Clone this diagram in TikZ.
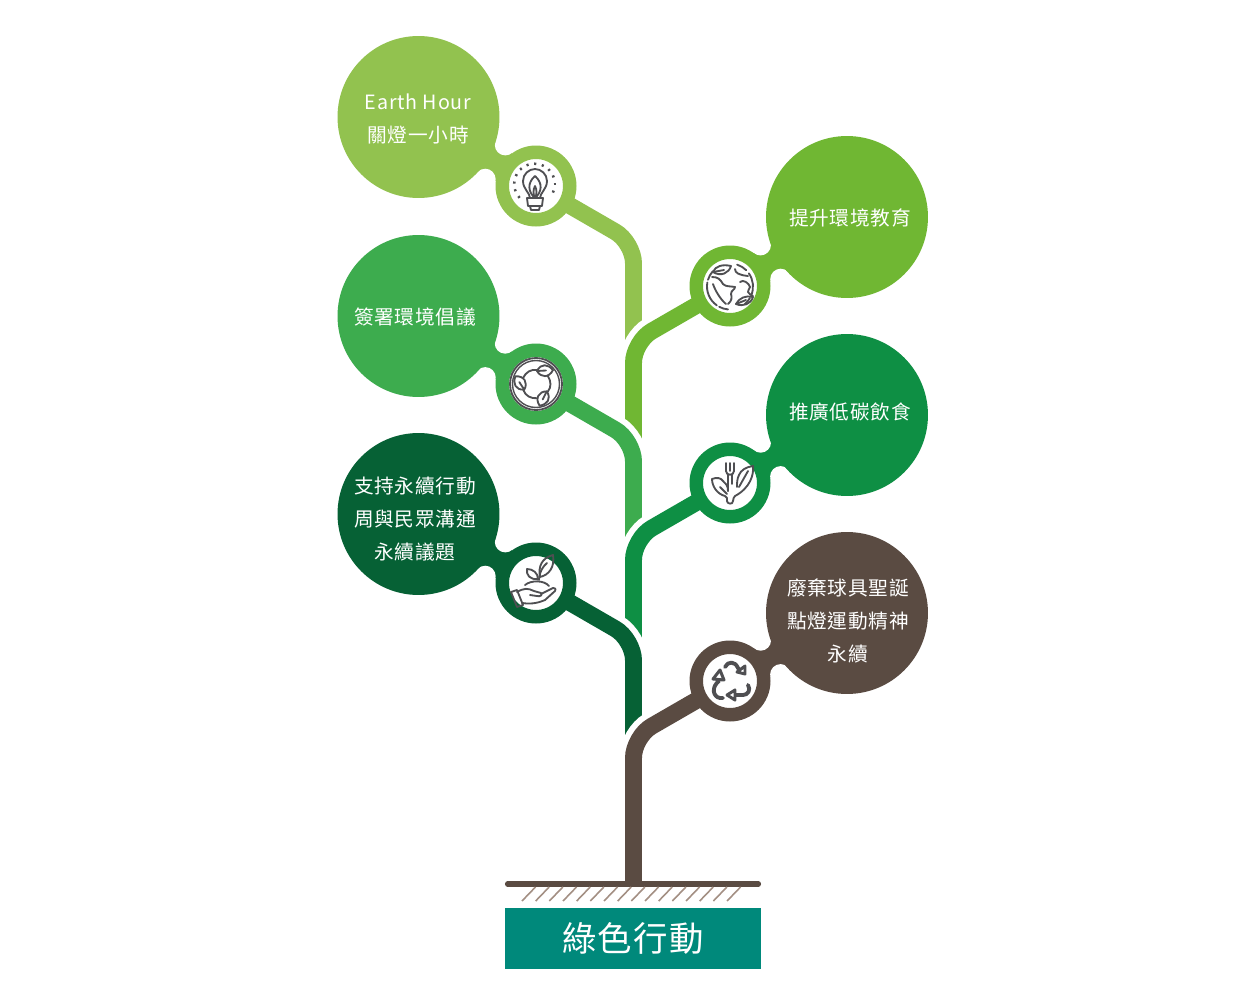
\documentclass[tikz,border=0pt]{standalone}
\usepackage{fontspec}
\setmainfont{Noto Sans CJK TC}[LetterSpace=4]
\usepackage{xcolor}
\usetikzlibrary{calc, backgrounds}

\definecolor{earthgreen}{HTML}{92C24F}
\definecolor{schoolgreen}{HTML}{70B733}
\definecolor{pledgegreen}{HTML}{3DAC4E}
\definecolor{foodgreen}{HTML}{0E8F44}
\definecolor{forestgreen}{HTML}{066135}
\definecolor{trunkbrown}{HTML}{5A4B42}
\definecolor{hatchbrown}{HTML}{A38F83}
\definecolor{titleteal}{HTML}{00897B}
\definecolor{icongray}{HTML}{4F4F52}

\tikzset{
    bubble/.style={circle, minimum size=3.24cm, inner sep=0pt, outer sep=0pt},
    ring/.style={circle, fill=white, minimum size=1.35cm, inner sep=0pt, outer sep=0pt, line width=0.27cm},
    bubbletext/.style={text=white, align=center, inner sep=0pt, font=\fontsize{11.2}{19}\selectfont},
    branch/.style={line width=9.64pt, rounded corners=12pt},
    branchgap/.style={branch, line width=16.4pt, draw=white},
    iconline/.style={draw=icongray, line width=1.05pt, line cap=round, line join=round},
}

\begin{document}
\begin{tikzpicture}[x=0.02cm, y=-0.02cm]
\useasboundingbox (0,0) rectangle (1242,1008);
\begin{scope}[on background layer]
    \fill[white] (0,0) rectangle (1242,1008);
\end{scope}

% Bubbles, rings and their necks
\foreach \nm/\col/\bx/\by/\rx/\ry in {
    earth/earthgreen/418.5/117/536/186,
    school/schoolgreen/847/217/730/286,
    pledge/pledgegreen/418.5/316/536/384,
    food/foodgreen/847/415/730/483,
    support/forestgreen/418.5/514/536/583,
    reuse/trunkbrown/847/613/730/681} {
    \node[bubble, fill=\col] (\nm bubble) at (\bx,\by) {};
    \node[ring, draw=\col] (\nm ring) at (\rx,\ry) {};
    \coordinate (\nm upper) at ($(\nm bubble.center)!0.653!(\nm ring.center)!0.398cm!90:(\nm ring.center)$);
    \coordinate (\nm lower) at ($(\nm bubble.center)!0.653!(\nm ring.center)!0.398cm!-90:(\nm ring.center)$);
    \begin{scope}[on background layer]
        \fill[\col] (\nm bubble.center) -- (\nm upper) -- (\nm ring.center) -- (\nm lower) -- cycle;
        \fill[white] (\nm upper) circle (0.21cm);
        \fill[white] (\nm lower) circle (0.21cm);
    \end{scope}
}

% Branches, top one first so that each next one cuts the end of the last
\begin{scope}[on background layer]
\foreach \nm/\col/\cy/\ey in {
    earth/earthgreen/242.3/345,
    school/schoolgreen/341.7/445,
    pledge/pledgegreen/440.3/545,
    food/foodgreen/538.7/645,
    support/forestgreen/639.3/745,
    reuse/trunkbrown/736.7/884} {
    \coordinate (\nm corner) at (633.5,\cy);
    \coordinate (\nm end) at (633.5,\ey);
    \draw[branchgap] (\nm ring.center) -- (\nm corner) -- (\nm end);
    \draw[branch, draw=\col] (\nm ring.center) -- (\nm corner) -- (\nm end);
}
\end{scope}

% Bubble texts
\node[bubbletext] (earthtext) at (418,119) {Earth Hour\\關燈一小時};
\node[bubbletext] (schooltext) at (850,218) {提升環境教育};
\node[bubbletext] (pledgetext) at (415,317) {簽署環境倡議};
\node[bubbletext] (foodtext) at (850,412) {推廣低碳飲食};
\node[bubbletext] (supporttext) at (415,519) {支持永續行動\\周與民眾溝通\\永續議題};
\node[bubbletext] (reusetext) at (848,621) {廢棄球具聖誕\\點燈運動精神\\永續};

% Bulb icon
\begin{scope}[shift={(earthring.center)}]
    \draw[iconline] (-6,12) .. controls (-6,7) and (-13,3) .. (-13,-5) .. controls (-13,-12) and (-7,-17) .. (-1,-17) .. controls (5,-17) and (11,-12) .. (11,-5) .. controls (11,3) and (4,7) .. (4,12);
    \draw[iconline] (-9,12) -- (7,12) -- (6,20) -- (-8,20) -- cycle;
    \draw[iconline] (-6,20) -- (-5,24) -- (3,24) -- (4,20);
    \draw[iconline] (-1,-10) .. controls (-9,-3) and (-8,6) .. (-1,12) .. controls (6,6) and (7,-3) .. (-1,-10);
    \draw[iconline] (-1,0) .. controls (-3,4) and (-3,8) .. (-1,12) .. controls (1,8) and (1,4) .. (-1,0);
    \foreach \a in {140,162,...,400} {
        \draw[icongray, line width=1.2pt] ($(-1.5,-2)+(\a:19)$) -- ($(-1.5,-2)+(\a:21.5)$);
    }
\end{scope}

% Globe icon
\begin{scope}[shift={(schoolring.center)}]
    \foreach \sa/\ea in {-72/-45,-35/22,30/50,95/118,125/190,197/222} {
        \draw[iconline] ($(0,0.5)+(\sa:23)$) arc[start angle=\sa, end angle=\ea, radius=23];
    }
    \draw[iconline] (-17,-14) .. controls (-15,-20) and (-7,-22) .. (1,-20) .. controls (-1,-13) and (-9,-9) .. (-17,-14) -- cycle;
    \draw[iconline] (-17,-14) -- (-6,-16);
    \draw[iconline] (6,18) .. controls (9,12) and (16,9) .. (23,11) .. controls (21,18) and (13,21) .. (6,18) -- cycle;
    \draw[iconline] (6,18) -- (16,14);
    \draw[iconline] (-18,-9) .. controls (-12,-9) and (-10,-7) .. (-7,-2) .. controls (-4,1) and (0,0) .. (5,1) .. controls (5,4) and (1,4) .. (1,8) .. controls (2,11) and (2,15) .. (-2,18);
    \draw[iconline] (-17,-2) .. controls (-15,4) and (-10,13) .. (-4,18);
    \draw[iconline] (5,-17) .. controls (5,-13) and (9,-11) .. (18,-10);
    \draw[iconline] (10,-4) .. controls (13,-7) and (19,-3) .. (20,1) .. controls (20,4) and (17,4) .. (18,6) .. controls (19,8) and (21,9) .. (23,10);
\end{scope}

% Leaf cycle icon
\begin{scope}[shift={(pledgering.center)}]
    \draw[iconline] (0,0) circle (26);
    \draw[iconline, line width=0.8pt] (0,0) circle (23.5);
    \foreach \a in {0,120,240} {
        \begin{scope}[rotate=\a]
            \draw[iconline] (1,-13) .. controls (5,-21) and (12,-20) .. (17,-14) .. controls (13,-6) and (5,-6) .. (1,-13) -- cycle;
            \draw[iconline] (1,-13) -- (10,-13.5);
            \draw[iconline] (-13,-6) .. controls (-10,-12) and (-5,-15) .. (1,-14);
        \end{scope}
    }
\end{scope}

% Fork and leaves icon
\begin{scope}[shift={(foodring.center)}]
    \foreach \tx in {-4,0,4} {
        \draw[iconline] (\tx,-20) -- (\tx,-12);
    }
    \draw[iconline] (-4,-12) .. controls (-4,-7) and (4,-7) .. (4,-12);
    \draw[iconline] (-2,-8) -- (-2,8);
    \draw[iconline] (2,-8) -- (2,1);
    \draw[iconline] (-18,-4) .. controls (-13,-6) and (-9,-5) .. (-7,-2) .. controls (-4,0) and (-2,3) .. (-2,8);
    \draw[iconline] (-18,-4) .. controls (-18,3) and (-13,11) .. (-5,13) -- (-3,15) -- (-3,18) .. controls (-3,21) and (3,22) .. (3,18) .. controls (3,16) and (4,14) .. (5,13);
    \draw[iconline] (-10,4) -- (-3,11);
    \draw[iconline] (23,-17) .. controls (16,-16) and (11,-13) .. (9,-8) .. controls (7,-4) and (7,0) .. (7,4);
    \draw[iconline] (23,-17) .. controls (24,-8) and (20,5) .. (5,13);
    \draw[iconline] (18,-12) -- (9,4);
\end{scope}

% Hand and sprout icon
\begin{scope}[shift={(supportring.center)}]
    \draw[iconline] (17,-28) .. controls (6,-25) and (2,-17) .. (4,-6) .. controls (13,-8) and (19,-16) .. (17,-28) -- cycle;
    \draw[iconline] (-9,-14) .. controls (-10,-8) and (-6,-3) .. (2,-4) .. controls (2,-10) and (-3,-14) .. (-9,-14) -- cycle;
    \draw[iconline] (3,-3) .. controls (3,-6) and (4,-14) .. (11,-20);
    \draw[iconline] (-11,2) .. controls (-5,-3) and (8,-3) .. (13,3);
    \draw[iconline] (-25,9) -- (-19,7) -- (-13,22) -- (-19,24) -- cycle;
    \draw[iconline] (-19,9) .. controls (-12,5) and (-8,5) .. (-2,8) -- (5,10) .. controls (7,12) and (4,14) .. (1,13) -- (-6,12);
    \draw[iconline] (5,11) -- (17,5) .. controls (20,5) and (20,7) .. (19,8) -- (9,17) .. controls (0,21) and (-8,21) .. (-14,20);
\end{scope}

% Recycle icon
\begin{scope}[shift={(reusering.center)}]
    \draw[iconline, line width=2.2pt] (-5,-14) .. controls (-2,-20) and (5,-20) .. (8,-13) -- (11,-9);
    \draw[iconline, line width=1.7pt, fill=white] (15,-7) -- (7,-9) -- (15,-15) -- cycle;
    \draw[iconline, line width=2.2pt] (18,4) .. controls (21,9) and (18,14) .. (13,14) -- (4,14);
    \draw[iconline, line width=1.7pt, fill=white] (-3,14) -- (5,9) -- (5,19) -- cycle;
    \draw[iconline, line width=2.2pt] (-11,0) .. controls (-19,6) and (-17,16) .. (-10,17) -- (-7,17);
    \draw[iconline, line width=1.7pt, fill=white] (-10,-11) -- (-17,-2) -- (-6,-1) -- cycle;
\end{scope}

% Ground and title
\coordinate (groundleft) at (507.5,884);
\coordinate (groundright) at (758.5,884);
\draw[trunkbrown, line width=2.9pt, line cap=round] (groundleft) -- (groundright);
\foreach \i in {0,...,15} {
    \draw[hatchbrown, line width=0.9pt] (522+\i*13.67,901) -- ++(13.5,-14);
}
\node[fill=titleteal, text=white, minimum width=5.12cm, minimum height=1.22cm, inner sep=0pt, font=\fontsize{19.6}{22}\selectfont] (title) at (633,938.5) {綠色行動};
\end{tikzpicture}
\end{document}
